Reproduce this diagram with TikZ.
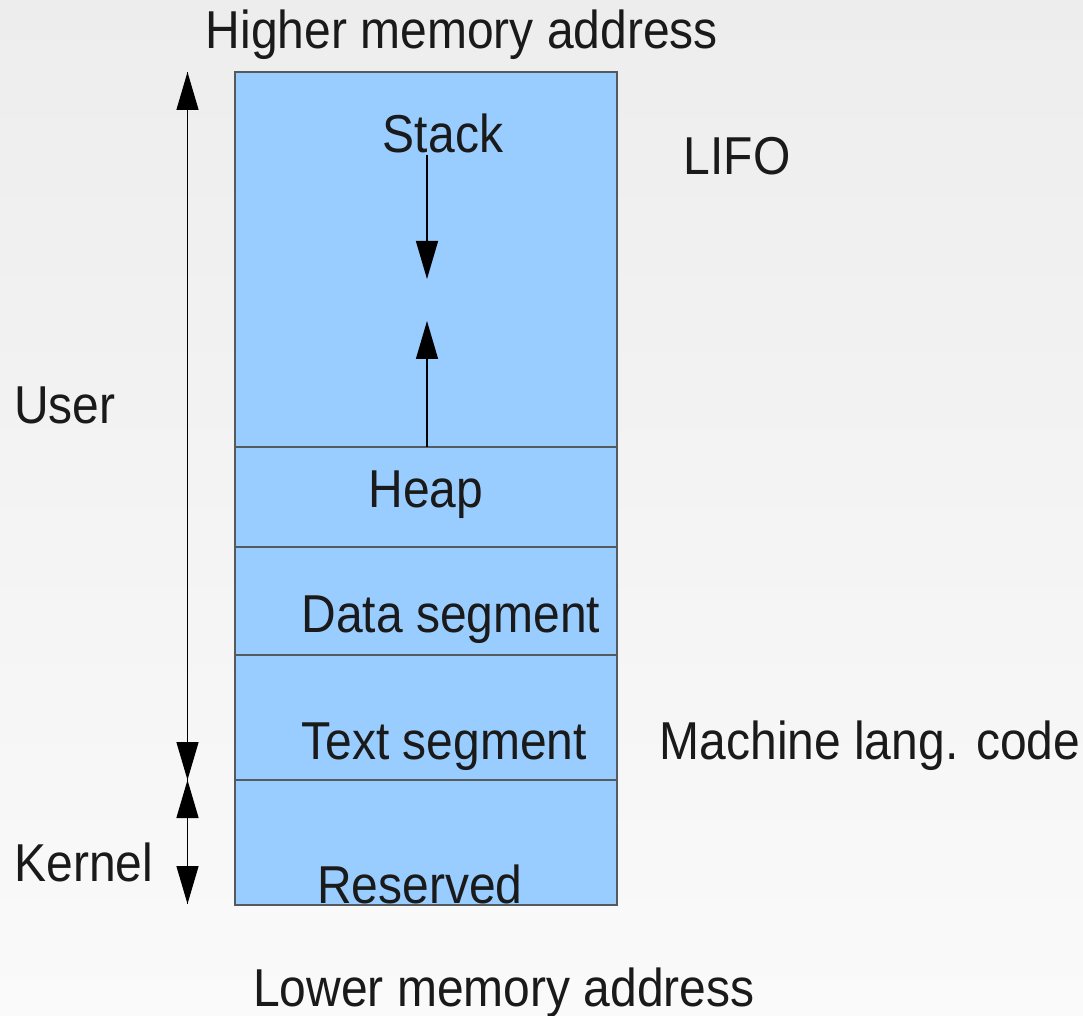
\documentclass[tikz,border=0pt]{standalone}
\usepackage{fontspec}
\setmainfont[FakeStretch=0.9]{Liberation Sans}
\usetikzlibrary{arrows.meta}
\definecolor{segblue}{RGB}{153,204,255}
\definecolor{edgegray}{RGB}{85,90,95}
\definecolor{txt}{RGB}{26,26,26}
\tikzset{
  sec/.style={draw=edgegray, line width=0.9pt, fill=segblue, minimum width=286.5pt, inner sep=0pt, outer sep=0pt},
  lbl/.style={anchor=base, inner sep=0pt, text=txt, font=\fontsize{40}{48}\selectfont},
  arr/.style={line width=1pt, -{Triangle[width=16.5pt,length=28.5pt]}},
}
\begin{document}
\begin{tikzpicture}[x=0.75pt,y=-0.75pt]
\shade[top color={rgb,255:red,236;green,237;blue,236}, bottom color={rgb,255:red,250;green,250;blue,250}] (0,0) rectangle (1083,1016);
\useasboundingbox (0,0) rectangle (1083,1016);
% segments
\node[sec, minimum height=281.25pt] (stack) at (426,259.5) {};
\node[sec, minimum height=75pt] (heap) at (426,497) {};
\node[sec, minimum height=81pt] (data) at (426,601) {};
\node[sec, minimum height=93.75pt] (text) at (426,717.5) {};
\node[sec, minimum height=93.75pt] (res) at (426,842.5) {};
% labels
\node[lbl] (hi) at (462,49) {Higher memory address};
\node[lbl] (stl) at (443,153) {Stack};
\node[lbl] (lifo) at (737,175) {LIFO};
\node[lbl] (user) at (65,424) {User};
\node[lbl] (heapl) at (426,508) {Heap};
\node[lbl] (datal) at (451,633) {Data segment};
\node[lbl] (textl) at (444,759) {Text segment};
\node[lbl] (mach) at (870,759) {Machine lang. code};
\node[lbl] (kern) at (84,881) {Kernel};
\node[lbl] (resl) at (420,903) {Reserved};
\node[lbl] (lo) at (504,1006) {Lower memory address};
% arrows
\coordinate (utop) at (187.5,72);
\coordinate (ubot) at (187.5,780);
\coordinate (kbot) at (187.5,904);
\coordinate (sa) at (427,155);
\coordinate (sb) at (427,279);
\coordinate (ha) at (427,447);
\coordinate (hb) at (427,321);
\draw[arr] (ubot) -- (utop);
\draw[arr] (utop) -- (ubot);
\draw[arr] (kbot) -- (ubot);
\draw[arr] (ubot) -- (kbot);
\draw[arr] (sa) -- (sb);
\draw[arr] (ha) -- (hb);
\end{tikzpicture}
\end{document}
